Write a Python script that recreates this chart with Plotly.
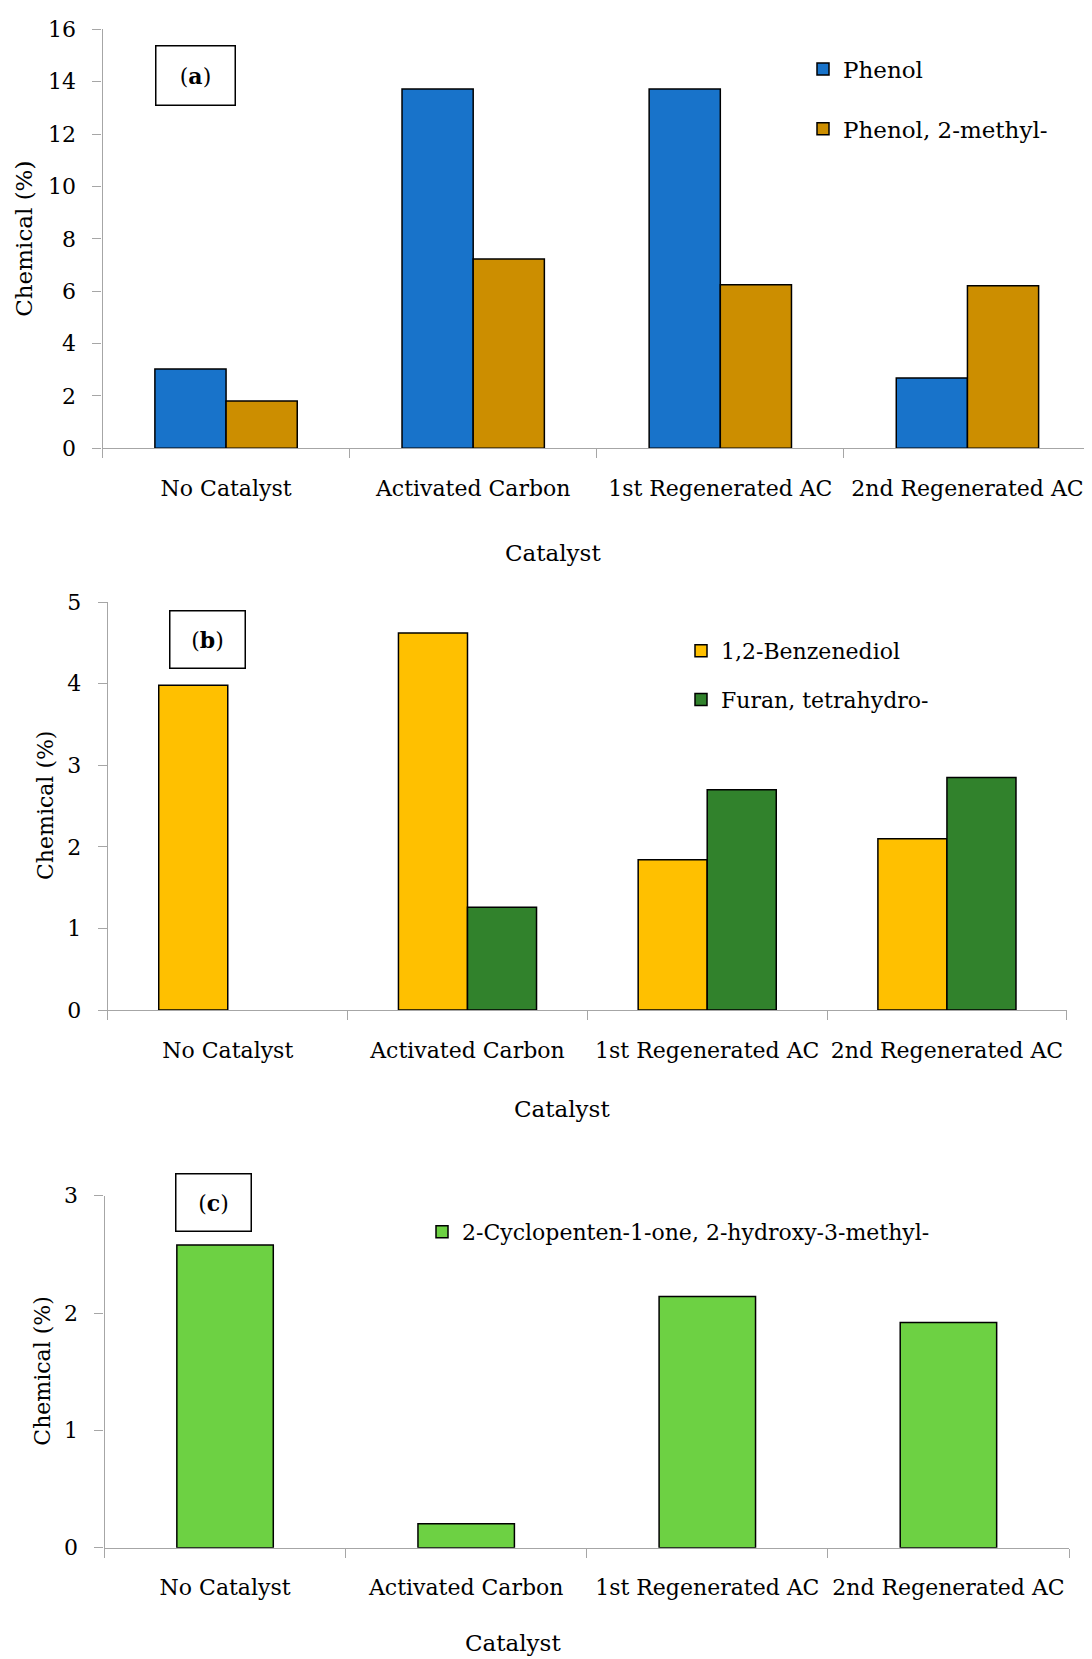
import plotly.graph_objects as go

# ---------------- data ----------------
categories = ["No Catalyst", "Activated Carbon", "1st Regenerated AC", "2nd Regenerated AC"]

# panel (a)
phenol = [3.03, 13.72, 13.72, 2.68]
phenol_2_methyl = [1.81, 7.23, 6.25, 6.21]
# panel (b)
benzenediol = [3.98, 4.62, 1.84, 2.10]
furan_tetrahydro = [None, 1.26, 2.70, 2.85]
# panel (c)
cyclopentenone = [2.58, 0.205, 2.14, 1.92]

y_ticks_a = [0, 2, 4, 6, 8, 10, 12, 14, 16]
y_ticks_b = [0, 1, 2, 3, 4, 5]
y_ticks_c = [0, 1, 2, 3]

# ---------------- styling ----------------
PAGE_W, PAGE_H = 1092, 1659
OFF = 8  # default body margin of the html page
W, H = PAGE_W - OFF, PAGE_H - OFF
FONT = "DejaVu Serif"
AXIS_GRAY = "#a6a6a6"
C_PHENOL = "#1873CA"
C_METHYL = "#CC8E00"
C_BENZ = "#FFC000"
C_FURAN = "#31822C"
C_CYCLO = "#6DD143"


def px_x(x):
    return (x - OFF) / W


def px_y(y):
    return 1 - (y - OFF) / H


fig = go.Figure()

bar_line = dict(color="black", width=1.5)

fig.add_trace(go.Bar(x=categories, y=phenol, name="Phenol", marker=dict(color=C_PHENOL, line=bar_line),
                     xaxis="x", yaxis="y", legend="legend", legendgroup="g1"))
fig.add_trace(go.Bar(x=categories, y=phenol_2_methyl, name="Phenol, 2-methyl-",
                     marker=dict(color=C_METHYL, line=bar_line),
                     xaxis="x", yaxis="y", legend="legend", legendgroup="g2"))
fig.add_trace(go.Bar(x=categories, y=benzenediol, name="1,2-Benzenediol", marker=dict(color=C_BENZ, line=bar_line),
                     xaxis="x2", yaxis="y2", legend="legend2", legendgroup="g3"))
fig.add_trace(go.Bar(x=categories, y=furan_tetrahydro, name="Furan, tetrahydro-",
                     marker=dict(color=C_FURAN, line=bar_line),
                     xaxis="x2", yaxis="y2", legend="legend2", legendgroup="g4"))
fig.add_trace(go.Bar(x=categories, y=cyclopentenone, name="2-Cyclopenten-1-one, 2-hydroxy-3-methyl-",
                     marker=dict(color=C_CYCLO, line=bar_line), width=0.4,
                     xaxis="x3", yaxis="y3", legend="legend3", legendgroup="g5"))


def xaxis_def(x0, x1, anchor):
    return dict(domain=[px_x(x0), px_x(x1)], anchor=anchor, type="category",
                automargin=False, tickangle=0,
                showline=True, linecolor=AXIS_GRAY, linewidth=1.3,
                ticks="outside", tickson="boundaries", ticklen=9, tickcolor=AXIS_GRAY, tickwidth=1.3,
                showgrid=False, zeroline=False,
                tickfont=dict(family=FONT, size=22, color="black"),
                ticklabelstandoff=20)


def yaxis_def(top_px, bot_px, rng, ticks, anchor):
    return dict(domain=[px_y(bot_px), px_y(top_px)], anchor=anchor, range=rng,
                automargin=False,
                tickvals=ticks, ticktext=[str(t) for t in ticks],
                showline=True, linecolor=AXIS_GRAY, linewidth=1.3,
                ticks="outside", ticklen=9, tickcolor=AXIS_GRAY, tickwidth=1.3,
                showgrid=False, zeroline=False,
                tickfont=dict(family=FONT, size=22, color="black"),
                ticklabelstandoff=12)


fig.update_layout(
    width=W, height=H,
    margin=dict(l=0, r=0, t=0, b=0, autoexpand=False),
    paper_bgcolor="white", plot_bgcolor="white",
    barmode="group", bargap=0.424, bargroupgap=0,
    font=dict(family=FONT, size=22, color="black"),
    xaxis=xaxis_def(102.5, 1091, "y"),
    yaxis=yaxis_def(29.3, 448.3, [0, 16], y_ticks_a, "x"),
    xaxis2=xaxis_def(107.9, 1066.8, "y2"),
    yaxis2=yaxis_def(602, 1010, [0, 5], y_ticks_b, "x2"),
    xaxis3=xaxis_def(104.5, 1069, "y3"),
    yaxis3=yaxis_def(1195.7, 1547.7, [0, 3], y_ticks_c, "x3"),
    legend=dict(x=px_x(803), y=px_y(47.5), xanchor="left", yanchor="top",
                bgcolor="rgba(0,0,0,0)", font=dict(family=FONT, size=23), tracegroupgap=27),
    legend2=dict(x=px_x(681), y=px_y(630), xanchor="left", yanchor="top",
                 bgcolor="rgba(0,0,0,0)", font=dict(family=FONT, size=22), tracegroupgap=17),
    legend3=dict(x=px_x(422), y=px_y(1211), xanchor="left", yanchor="top",
                 bgcolor="rgba(0,0,0,0)", font=dict(family=FONT, size=22)),
)

annotations = []
# panel label boxes
for label, cx, cy, w, h in [("a", 195.4, 75.9, 78, 58), ("b", 207.4, 639.9, 74, 56), ("c", 213, 1202, 74, 56)]:
    annotations.append(dict(text="(<b>%s</b>)" % label, xref="paper", yref="paper",
                            x=px_x(cx), y=px_y(cy), xanchor="center", yanchor="middle",
                            showarrow=False, width=w, height=h, borderpad=0,
                            bordercolor="black", borderwidth=1.5, bgcolor="white",
                            font=dict(family=FONT, size=22, color="black")))
# y titles
for cx, cy, size in [(24, 238.8, 23), (46, 806, 22), (43, 1371.7, 22)]:
    annotations.append(dict(text="Chemical (%)", xref="paper", yref="paper", x=px_x(cx), y=px_y(cy),
                            xanchor="center", yanchor="middle", textangle=-90, showarrow=False,
                            font=dict(family=FONT, size=size, color="black")))
# x titles
for cx, cy in [(553, 553), (562, 1109), (513, 1643)]:
    annotations.append(dict(text="Catalyst", xref="paper", yref="paper", x=px_x(cx), y=px_y(cy),
                            xanchor="center", yanchor="middle", showarrow=False,
                            font=dict(family=FONT, size=23, color="black")))
fig.update_layout(annotations=annotations)

fig.write_html("out.html")
